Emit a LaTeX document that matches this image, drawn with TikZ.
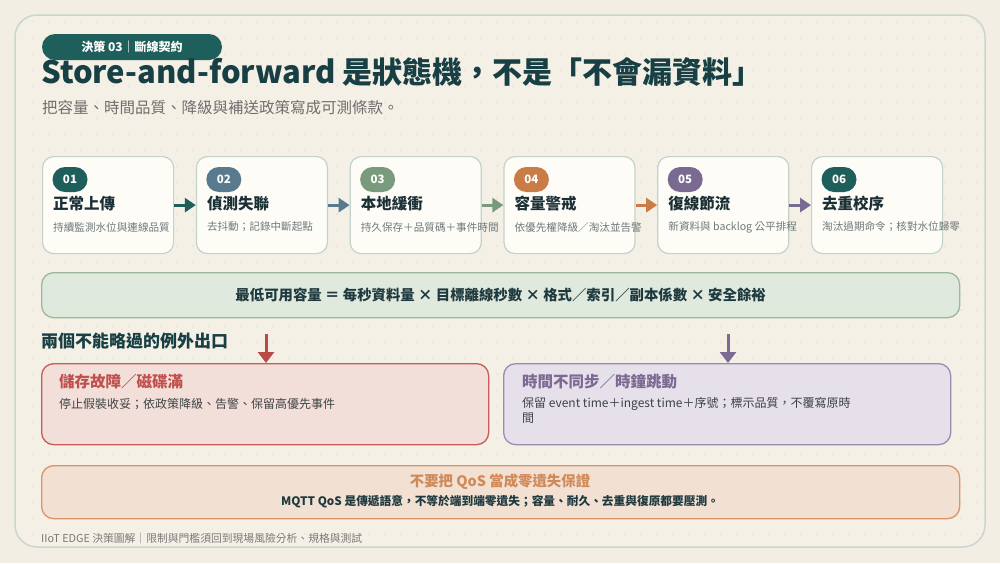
\documentclass[tikz,border=0pt]{standalone}
\usepackage{fontspec}
\setmainfont{Noto Sans CJK TC}
\usetikzlibrary{arrows.meta}
\definecolor{bgc}{HTML}{F2EEE4}
\definecolor{framefill}{HTML}{F4F0E6}
\definecolor{frameline}{HTML}{C9D6D0}
\definecolor{dotc}{HTML}{E2DED3}
\definecolor{tealc}{HTML}{1F5F5B}
\definecolor{titlec}{HTML}{173F44}
\definecolor{subc}{HTML}{6E6E6E}
\definecolor{stepfill}{HTML}{FDFCF7}
\definecolor{stepline}{HTML}{C3D3CB}
\definecolor{steptitle}{HTML}{1B3035}
\definecolor{stepdesc}{HTML}{6F797B}
\definecolor{cA}{HTML}{1F5F5B}
\definecolor{cB}{HTML}{587A8C}
\definecolor{cC}{HTML}{7A9A7E}
\definecolor{cD}{HTML}{C97C46}
\definecolor{cE}{HTML}{7A6A92}
\definecolor{cF}{HTML}{1F5F5B}
\definecolor{formfill}{HTML}{DFE9DD}
\definecolor{formline}{HTML}{9CB89C}
\definecolor{formtext}{HTML}{1F3A3F}
\definecolor{redfill}{HTML}{F3DFD9}
\definecolor{redline}{HTML}{C75B55}
\definecolor{redtitle}{HTML}{C0504D}
\definecolor{redarrow}{HTML}{B94A45}
\definecolor{purfill}{HTML}{E6E0EA}
\definecolor{purline}{HTML}{9A8BB0}
\definecolor{purtitle}{HTML}{7D6A94}
\definecolor{purarrow}{HTML}{7B6A92}
\definecolor{orafill}{HTML}{F2E0D2}
\definecolor{oraline}{HTML}{D9956A}
\definecolor{oratitle}{HTML}{D08A58}
\definecolor{bodyc}{HTML}{3E4245}
\definecolor{footc}{HTML}{7A7A7A}
\begin{document}
\begin{tikzpicture}[x=1pt,y=-1pt,
  stepbox/.style={draw=stepline, line width=1.2pt, fill=stepfill, rounded corners=11pt,
    minimum width=131pt, minimum height=97pt, inner sep=0pt},
  badge/.style={rounded corners=12.5pt, minimum width=35pt, minimum height=25pt, inner sep=0pt,
    text=white, font=\fontsize{11.5}{13}\selectfont\bfseries},
  steptitle/.style={anchor=west, inner sep=0pt, text=steptitle, font=\fontsize{15.5}{18}\selectfont\bfseries},
  stepdesc/.style={anchor=west, inner sep=0pt, text=stepdesc, font=\fontsize{10.6}{13}\selectfont},
  steparrow/.style={line width=3pt, -{Triangle[length=11pt,width=14pt]}},
  exarrow/.style={line width=3pt, -{Triangle[length=11pt,width=16pt]}},
  panel/.style={line width=1.3pt, rounded corners=12pt, inner sep=0pt},
  extitle/.style={anchor=west, inner sep=0pt, font=\fontsize{15.5}{18}\selectfont\bfseries},
  exdesc/.style={anchor=north west, inner sep=0pt, text=bodyc, align=left, font=\fontsize{12}{15.5}\selectfont}
]
\useasboundingbox (0,0) rectangle (1000,563);
\fill[bgc] (0,0) rectangle (1000,563);
\draw[frameline, line width=1.5pt, fill=framefill, rounded corners=22pt] (15,15) rectangle (985,547);
\foreach \gx in {33,49,...,977}{
  \foreach \gy in {22,38,...,542}{
    \fill[dotc] (\gx,\gy) circle (0.9pt);
  }
}
% tag
\node[fill=tealc, rounded corners=13pt, minimum width=180pt, minimum height=26pt, inner sep=0pt,
  text=white, font=\fontsize{12}{14}\selectfont\bfseries] (tag) at (132,47) {決策 03｜斷線契約};
% title
\node[anchor=west, inner sep=0pt, text=titlec, font=\fontsize{30}{34}\selectfont\bfseries] (title) at (41,72) {{\fontsize{31}{34}\selectfont Store-and-forward} 是狀態機，不是「不會漏資料」};
\node[anchor=west, inner sep=0pt, text=subc, font=\fontsize{15.5}{18}\selectfont] (subtitle) at (42,108) {把容量、時間品質、降級與補送政策寫成可測條款。};
% steps
\foreach \i/\col/\ttl/\dsc in {1/cA/正常上傳/持續監測水位與連線品質,
  2/cB/偵測失聯/去抖動；記錄中斷起點,
  3/cC/本地緩衝/持久保存＋品質碼＋事件時間,
  4/cD/容量警戒/依優先權降級／淘汰並告警,
  5/cE/復線節流/新資料與 backlog 公平排程,
  6/cF/去重校序/淘汰過期命令；核對水位歸零}{
  \node[stepbox, anchor=north west] (s\i) at ({42+(\i-1)*153.8},156) {};
  \node[badge, fill=\col] (b\i) at ({42+(\i-1)*153.8+28},179.5) {0\i};
  \node[steptitle] (t\i) at ({42+(\i-1)*153.8+11},204) {\ttl};
  \node[stepdesc] (d\i) at ({42+(\i-1)*153.8+11},227) {\dsc};
}
\foreach \i/\j/\col in {1/2/cA,2/3/cB,3/4/cC,4/5/cD,5/6/cE}{
  \draw[steparrow, \col] (s\i.east) -- (s\j.west);
}
% formula
\node[panel, draw=formline, fill=formfill, anchor=north west, minimum width=918pt, minimum height=45pt] (formula) at (41,272) {};
\node[inner sep=0pt, text=formtext, font=\fontsize{14.4}{16}\selectfont\bfseries] (formtxt) at (formula.center) {最低可用容量 ＝ 每秒資料量 × 目標離線秒數 × 格式／索引／副本係數 × 安全餘裕};
% exceptions heading
\node[anchor=west, inner sep=0pt, text=titlec, font=\fontsize{17}{20}\selectfont\bfseries] (exhead) at (41,341) {兩個不能略過的例外出口};
% red box
\node[panel, draw=redline, fill=redfill, anchor=north west, minimum width=447pt, minimum height=81pt] (rbox) at (41,363) {};
\node[extitle, text=redtitle] (rtitle) at (59,382) {儲存故障／磁碟滿};
\node[exdesc] (rdesc) at (59,398) {停止假裝收妥；依政策降級、告警、保留高優先事件};
% purple box
\node[panel, draw=purline, fill=purfill, anchor=north west, minimum width=447pt, minimum height=81pt] (pbox) at (503,363) {};
\node[extitle, text=purtitle] (ptitle) at (522,382) {時間不同步／時鐘跳動};
\node[exdesc] (pdesc) at (522,397) {保留 event time＋ingest time＋序號；標示品質，不覆寫原時\\間};
% exception arrows
\coordinate (ra) at (266,334);
\coordinate (pa) at (728,334);
\draw[exarrow, redarrow] (ra) -- (ra |- rbox.north);
\draw[exarrow, purarrow] (pa) -- (pa |- pbox.north);
% orange box
\node[panel, draw=oraline, fill=orafill, anchor=north west, minimum width=918pt, minimum height=53pt] (obox) at (41,465) {};
\node[inner sep=0pt, text=oratitle, font=\fontsize{14.4}{17}\selectfont\bfseries] (otitle) at (500,482) {不要把 QoS 當成零遺失保證};
\node[inner sep=0pt, text=formtext, font=\fontsize{11.7}{14}\selectfont\bfseries] (odesc) at (500,502) {MQTT QoS 是傳遞語意，不等於端到端零遺失；容量、耐久、去重與復原都要壓測。};
% footer
\node[anchor=west, inner sep=0pt, text=footc, font=\fontsize{10.8}{13}\selectfont] (footer) at (41,538) {IIoT EDGE 決策圖解｜限制與門檻須回到現場風險分析、規格與測試};
\end{tikzpicture}
\end{document}
